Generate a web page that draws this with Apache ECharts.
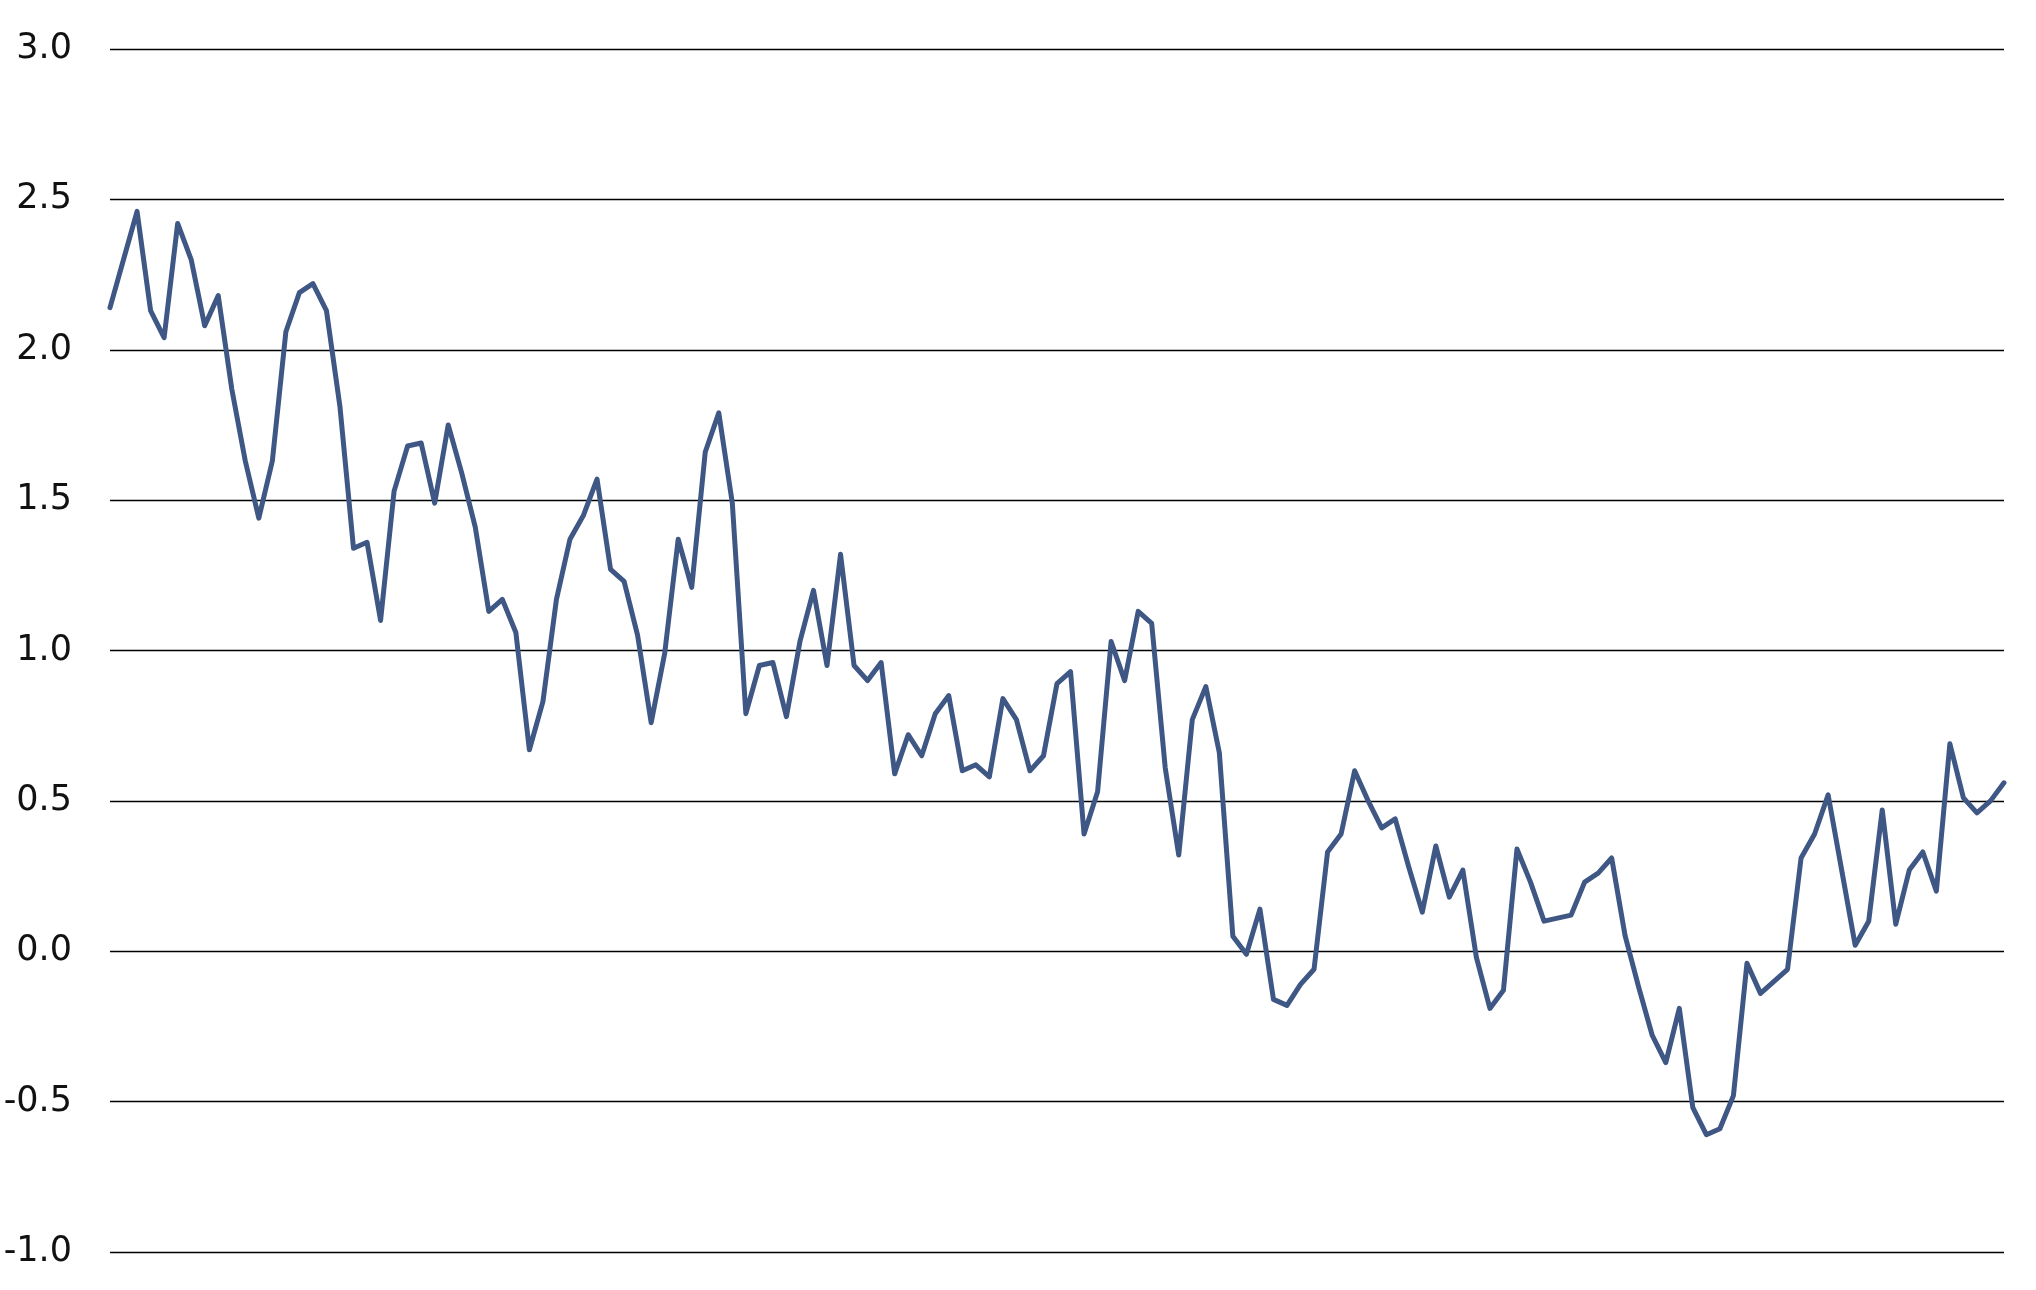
<!DOCTYPE html>
<html>
<head>
<meta charset="utf-8">
<script src="https://cdn.jsdelivr.net/npm/echarts@6/dist/echarts.min.js"></script>
<style>
html,body{margin:0;padding:0;background:#fff;}
#chart{width:2036px;height:1290px;}
</style>
</head>
<body>
<div id="chart"></div>
<script>
const values = [
  2.14, 2.30, 2.46, 2.13, 2.04, 2.42, 2.30, 2.08, 2.18, 1.87,
  1.63, 1.44, 1.63, 2.06, 2.19, 2.22, 2.13, 1.81, 1.34, 1.36,
  1.10, 1.53, 1.68, 1.69, 1.49, 1.75, 1.59, 1.41, 1.13, 1.17,
  1.06, 0.67, 0.83, 1.17, 1.37, 1.45, 1.57, 1.27, 1.23, 1.05,
  0.76, 0.99, 1.37, 1.21, 1.66, 1.79, 1.49, 0.79, 0.95, 0.96,
  0.78, 1.03, 1.20, 0.95, 1.32, 0.95, 0.90, 0.96, 0.59, 0.72,
  0.65, 0.79, 0.85, 0.60, 0.62, 0.58, 0.84, 0.77, 0.60, 0.65,
  0.89, 0.93, 0.39, 0.53, 1.03, 0.90, 1.13, 1.09, 0.61, 0.32,
  0.77, 0.88, 0.66, 0.05, -0.01, 0.14, -0.16, -0.18, -0.11, -0.06,
  0.33, 0.39, 0.60, 0.50, 0.41, 0.44, 0.28, 0.13, 0.35, 0.18,
  0.27, -0.02, -0.19, -0.13, 0.34, 0.23, 0.10, 0.11, 0.12, 0.23,
  0.26, 0.31, 0.05, -0.12, -0.28, -0.37, -0.19, -0.52, -0.61, -0.59,
  -0.48, -0.04, -0.14, -0.10, -0.06, 0.31, 0.39, 0.52, 0.27, 0.02,
  0.10, 0.47, 0.09, 0.27, 0.33, 0.20, 0.69, 0.51, 0.46, 0.50,
  0.56
];
const categories = values.map((_, i) => String(i + 1));
const yTicks = { min: -1.0, max: 3.0, step: 0.5 };

const chart = echarts.init(document.getElementById('chart'), null, { renderer: 'canvas' });
chart.setOption({
  animation: false,
  backgroundColor: '#ffffff',
  grid: { left: 110, right: 32, top: 49, bottom: 38, containLabel: false },
  xAxis: {
    type: 'category',
    data: categories,
    boundaryGap: false,
    show: false
  },
  yAxis: {
    type: 'value',
    min: yTicks.min,
    max: yTicks.max,
    interval: yTicks.step,
    axisLine: { show: false },
    axisTick: { show: false },
    splitLine: { show: true, lineStyle: { color: '#000000', width: 1.3 } },
    axisLabel: {
      margin: 38,
      color: '#111111',
      fontFamily: 'DejaVu Sans',
      fontSize: 35,
      padding: [0, 0, 12, 0],
      formatter: v => v.toFixed(1)
    }
  },
  series: [{
    type: 'line',
    data: values,
    showSymbol: false,
    symbol: 'none',
    lineStyle: { color: '#3f5784', width: 5, join: 'round', cap: 'round' },
    itemStyle: { color: '#3f5784' }
  }]
});
</script>
</body>
</html>
